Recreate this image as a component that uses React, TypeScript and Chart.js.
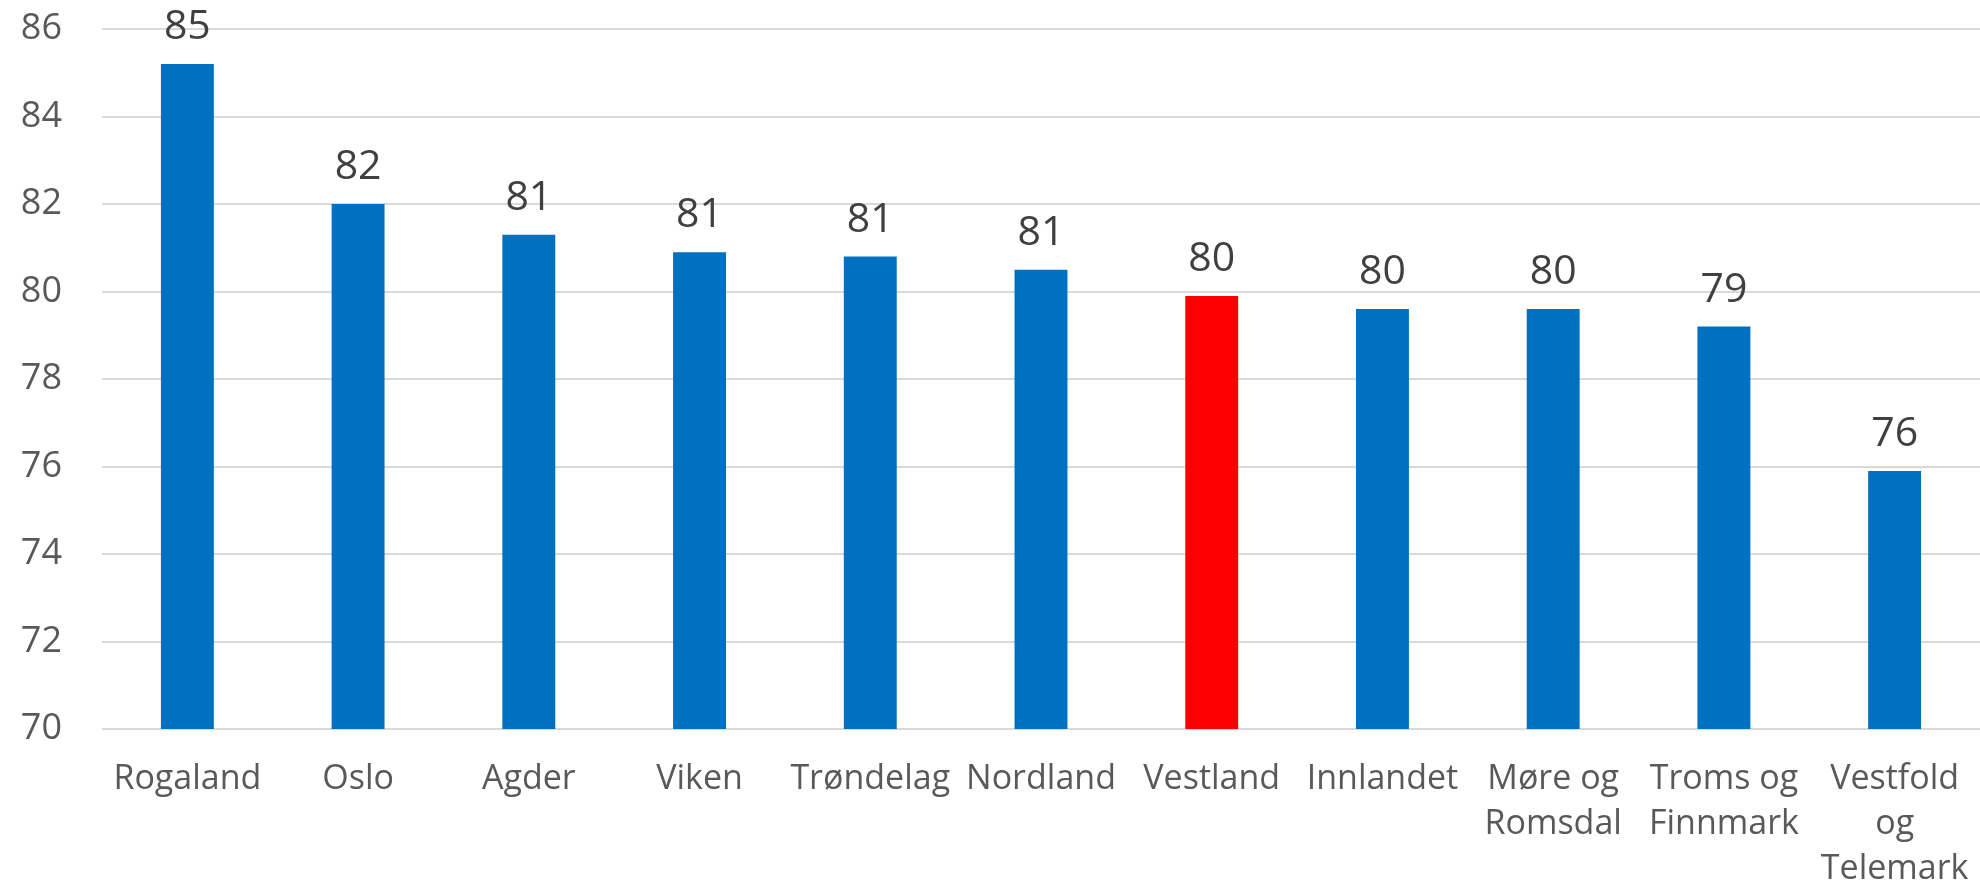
import React, { useEffect, useRef } from "react";
import { Chart, registerables } from "chart.js";

Chart.register(...registerables);

const categories: (string | string[])[] = [
  "Rogaland",
  "Oslo",
  "Agder",
  "Viken",
  "Trøndelag",
  "Nordland",
  "Vestland",
  "Innlandet",
  ["Møre og", "Romsdal"],
  ["Troms og", "Finnmark"],
  ["Vestfold", "og", "Telemark"],
];
const values = [85.2, 82.0, 81.3, 80.9, 80.8, 80.5, 79.9, 79.6, 79.6, 79.2, 75.9];
const barColors = [
  "#0070C0", "#0070C0", "#0070C0", "#0070C0", "#0070C0", "#0070C0",
  "#FF0000", "#0070C0", "#0070C0", "#0070C0", "#0070C0",
];
const yMin = 70;
const yMax = 86;
const yStep = 2;

const FONT = "'Open Sans', 'DejaVu Sans', sans-serif";

const valueLabels = {
  id: "valueLabels",
  afterDatasetsDraw(chart: any) {
    const ctx = chart.ctx;
    const meta = chart.getDatasetMeta(0);
    ctx.save();
    ctx.fillStyle = "#404040";
    ctx.font = `41px ${FONT}`;
    ctx.textAlign = "center";
    ctx.textBaseline = "alphabetic";
    meta.data.forEach((bar: any, i: number) => {
      const v = values[i];
      ctx.fillText(String(Math.round(v)), bar.x, bar.y - 25);
    });
    ctx.restore();
  },
};

export default function App() {
  const ref = useRef<HTMLCanvasElement | null>(null);
  useEffect(() => {
    if (!ref.current) return;
    const chart = new Chart(ref.current, {
      type: "bar",
      data: {
        labels: categories,
        datasets: [
          {
            data: values,
            backgroundColor: barColors,
            borderWidth: 0,
            barPercentage: 0.62,
            categoryPercentage: 0.5,
          },
        ],
      },
      options: {
        animation: false,
        responsive: false,
        layout: { padding: { top: 29, left: 0, right: 0, bottom: 0 } },
        plugins: {
          legend: { display: false },
          tooltip: { enabled: false },
          title: { display: false },
        },
        scales: {
          x: {
            grid: { display: false, drawTicks: false },
            border: { display: false },
            ticks: {
              color: "#595959",
              font: { family: FONT, size: 34, lineHeight: 1.32 },
              padding: 28,
              maxRotation: 0,
              minRotation: 0,
              autoSkip: false,
            },
            afterFit(axis: any) {
              axis.height = 157;
              axis.paddingLeft = 0;
              axis.paddingRight = 0;
            },
          },
          y: {
            min: yMin,
            max: yMax,
            ticks: {
              stepSize: yStep,
              color: "#595959",
              font: { family: FONT, size: 36 },
              padding: 40,
            },
            grid: { color: "#d9d9d9", lineWidth: 2, drawTicks: false },
            border: { display: false },
            afterFit(axis: any) {
              axis.width = 102;
              axis.paddingTop = 0;
              axis.paddingBottom = 0;
            },
          },
        },
      },
      plugins: [valueLabels],
    });
    return () => chart.destroy();
  }, []);
  return (
    <div style={{ position: "fixed", left: 0, top: 0, width: 1980, height: 886, background: "#fff" }}>
      <canvas ref={ref} width={1980} height={886} />
    </div>
  );
}
